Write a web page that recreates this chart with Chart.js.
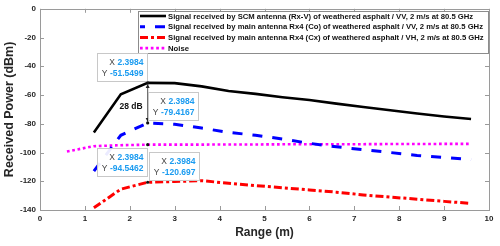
<!DOCTYPE html>
<html>
<head>
<meta charset="utf-8">
<script src="https://cdn.jsdelivr.net/npm/chart.js@4.4.1/dist/chart.umd.min.js"></script>
<style>
  html, body { margin: 0; padding: 0; background: #fff; }
  #wrap { width: 500px; height: 246px; }
</style>
</head>
<body>
<div id="wrap"><canvas id="rangeChart" width="500" height="246"></canvas></div>
<script>
// ranges in m
let rangeVals = [1.2, 1.8, 2.4, 3.0, 3.6, 4.2, 4.8, 5.4, 6.0, 6.6, 7.2, 7.8, 8.4, 9.0, 9.6]
let noiseRange = [0.6, 1.2, 1.8, 2.4, 3.0, 3.6, 4.2, 4.8, 5.4, 6.0, 6.6, 7.2, 7.8, 8.4, 9.0, 9.6]

// received power in dBm
let scmVV = [-86, -59.5, -51.5499, -51.7, -54, -57.2, -59.2, -61.5, -63.5, -66, -68.3, -70.6, -72.8, -74.9, -76.7]
let mainVV = [-113, -88, -79.4167, -80.3, -83, -86, -88, -90.6, -93.6, -96, -98, -100, -102, -103.4, -105]
let mainVH = [-138.5, -125.5, -120.697, -120.2, -119.6, -121.4, -123, -124.5, -126, -127.6, -129.5, -131, -132.5, -134, -135.4]
let noise = [-99.3, -95.6, -94.9, -94.5462, -94.5, -94.5, -94.4, -94.4, -94.3, -94.3, -94.2, -94.2, -94.1, -94.1, -94.0, -94.0]

let legendLabels = [
    'Signal received by SCM antenna (Rx-V) of weathered asphalt / VV, 2 m/s at 80.5 GHz',
    'Signal received by main antenna Rx4 (Co) of weathered asphalt / VV, 2 m/s at 80.5 GHz',
    'Signal received by main antenna Rx4 (Cx) of weathered asphalt / VH, 2 m/s at 80.5 GHz',
    'Noise'
]

// data tips at x = 2.3984
let tipX = 2.3984
let tipY = [-51.5499, -79.4167, -94.5462, -120.697]
let tipText = ['-51.5499', '-79.4167', '-94.5462', '-120.697']
let gapLabel = '28 dB'

const FONT = '"Liberation Sans", Arial, sans-serif'
const AXIS_GRAY = '#9a9a9a'
const TEXT_DARK = '#262626'

function toPoints(xs, ys) {
    let pts = []
    for (let i = 0; i < ys.length; i++) {
        pts.push({ x: xs[i], y: ys[i] })
    }
    return pts
}

let seriesStyle = [
    { color: '#000000', width: 2.6, dash: [] },
    { color: '#0000ff', width: 3, dash: [10, 10] },
    { color: '#ff0000', width: 3, dash: [8, 3, 3, 3] },
    { color: '#ff00ff', width: 2.6, dash: [2.7, 2.7] }
]

let datasets = [
    toPoints(rangeVals, scmVV),
    toPoints(rangeVals, mainVV),
    toPoints(rangeVals, mainVH),
    toPoints(noiseRange, noise)
].map(function (pts, i) {
    return {
        label: legendLabels[i],
        data: pts,
        borderColor: seriesStyle[i].color,
        borderWidth: seriesStyle[i].width,
        borderDash: seriesStyle[i].dash,
        borderCapStyle: 'butt',
        pointRadius: 0,
        fill: false,
        tension: 0
    }
})

const matlabBox = {
    id: 'matlabBox',
    afterDatasetsDraw(chart) {
        let ctx = chart.ctx
        let a = chart.chartArea
        let xs = chart.scales.x
        let ys = chart.scales.y
        ctx.save()

        // box and inward ticks
        ctx.strokeStyle = AXIS_GRAY
        ctx.lineWidth = 1
        ctx.setLineDash([])
        ctx.strokeRect(Math.round(a.left) + 0.5, Math.round(a.top) + 0.5, Math.round(a.right - a.left), Math.round(a.bottom - a.top))
        ctx.beginPath()
        xs.ticks.forEach(function (t) {
            let px = Math.round(xs.getPixelForValue(t.value)) + 0.5
            ctx.moveTo(px, a.bottom); ctx.lineTo(px, a.bottom - 4)
            ctx.moveTo(px, a.top); ctx.lineTo(px, a.top + 4)
        })
        ys.ticks.forEach(function (t) {
            let py = Math.round(ys.getPixelForValue(t.value)) + 0.5
            ctx.moveTo(a.left, py); ctx.lineTo(a.left + 4, py)
            ctx.moveTo(a.right, py); ctx.lineTo(a.right - 4, py)
        })
        ctx.stroke()

        // legend
        let lx = 138, ly = 11, lw = 350, lh = 42
        ctx.fillStyle = '#ffffff'
        ctx.fillRect(lx, ly, lw, lh)
        ctx.strokeStyle = '#8c8c8c'
        ctx.strokeRect(lx + 0.5, ly + 0.5, lw, lh)
        ctx.font = 'bold 7.7px ' + FONT
        ctx.textBaseline = 'middle'
        ctx.textAlign = 'left'
        for (let i = 0; i < legendLabels.length; i++) {
            let rowY = 16 + i * 10.7
            ctx.strokeStyle = seriesStyle[i].color
            ctx.lineWidth = seriesStyle[i].width
            ctx.setLineDash(seriesStyle[i].dash)
            ctx.lineDashOffset = i == 1 ? 5 : 0
            ctx.beginPath()
            ctx.moveTo(140, rowY)
            ctx.lineTo(166, rowY)
            ctx.stroke()
            ctx.setLineDash([])
            ctx.lineDashOffset = 0
            ctx.fillStyle = '#111111'
            ctx.fillText(legendLabels[i], 168, rowY + 0.5)
        }

        // arrow between the two top tips
        let px = xs.getPixelForValue(tipX)
        let yTop = ys.getPixelForValue(tipY[0])
        let yBot = ys.getPixelForValue(tipY[1])
        ctx.strokeStyle = '#222'
        ctx.fillStyle = '#222'
        ctx.lineWidth = 0.8
        ctx.beginPath()
        ctx.moveTo(px, yTop + 3)
        ctx.lineTo(px, yBot - 3)
        ctx.stroke()
        ctx.beginPath()
        ctx.moveTo(px, yTop + 1); ctx.lineTo(px - 2, yTop + 5); ctx.lineTo(px + 2, yTop + 5); ctx.closePath()
        ctx.moveTo(px, yBot - 1); ctx.lineTo(px - 2, yBot - 5); ctx.lineTo(px + 2, yBot - 5); ctx.closePath()
        ctx.fill()
        ctx.font = 'bold 8.5px ' + FONT
        ctx.textAlign = 'right'
        ctx.fillStyle = '#111'
        ctx.fillText(gapLabel, px - 5, ys.getPixelForValue(-67.8))

        // data tips: [dx of box left, dy of box top] relative to point
        let boxW = 50, boxH = 28
        let offsets = [[-51, -30], [0, -31], [-51, 3], [1, -30]]
        for (let i = 0; i < tipY.length; i++) {
            let py = ys.getPixelForValue(tipY[i])
            let bx = Math.round(px + offsets[i][0]) + 0.5
            let by = Math.round(py + offsets[i][1]) + 0.5
            ctx.fillStyle = 'rgba(255,255,255,0.92)'
            ctx.fillRect(bx, by, boxW, boxH)
            ctx.strokeStyle = '#c8c8c8'
            ctx.lineWidth = 1
            ctx.strokeRect(bx, by, boxW, boxH)
            let rows = [['X', '2.3984'], ['Y', tipText[i]]]
            for (let r = 0; r < 2; r++) {
                let ty = by + 9 + r * 11
                let right = bx + boxW - 4
                ctx.font = 'bold 8.5px ' + FONT
                let vw = ctx.measureText(rows[r][1]).width
                ctx.textAlign = 'right'
                ctx.fillStyle = '#1a9bf0'
                ctx.fillText(rows[r][1], right, ty)
                ctx.font = '8.5px ' + FONT
                ctx.fillStyle = '#444'
                ctx.fillText(rows[r][0], right - vw - 2.5, ty)
            }
            ctx.fillStyle = '#111'
            ctx.beginPath()
            ctx.arc(px, py, 1.6, 0, Math.PI * 2)
            ctx.fill()
        }
        ctx.restore()
    }
}

let chartContext = document.getElementById('rangeChart')
var rangeChart = new Chart(chartContext, {
    type: 'line',
    data: { datasets: datasets },
    options: {
        responsive: false,
        animation: false,
        devicePixelRatio: 1,
        layout: { padding: { top: 8, right: 11, left: 0, bottom: 0 } },
        plugins: {
            legend: { display: false },
            tooltip: { enabled: false }
        },
        scales: {
            x: {
                type: 'linear',
                min: 0,
                max: 10,
                ticks: {
                    stepSize: 1,
                    padding: 4,
                    maxRotation: 0,
                    color: TEXT_DARK,
                    font: { family: FONT, size: 8, weight: 'bold' }
                },
                grid: { display: false, drawTicks: false },
                border: { display: false },
                title: {
                    display: true,
                    text: 'Range (m)',
                    color: TEXT_DARK,
                    font: { family: FONT, size: 12, weight: 'bold' },
                    padding: { top: 0, bottom: 6 }
                },
                afterFit: function (scale) { scale.height = 36 }
            },
            y: {
                min: -140,
                max: 0,
                ticks: {
                    stepSize: 20,
                    padding: 4,
                    color: TEXT_DARK,
                    font: { family: FONT, size: 8, weight: 'bold' }
                },
                grid: { display: false, drawTicks: false },
                border: { display: false },
                title: {
                    display: true,
                    text: 'Received Power (dBm)',
                    color: TEXT_DARK,
                    font: { family: FONT, size: 12.5, weight: 'bold' },
                    padding: { top: 2, bottom: 0 }
                },
                afterFit: function (scale) { scale.width = 40 }
            }
        }
    },
    plugins: [matlabBox]
})
</script>
</body>
</html>
